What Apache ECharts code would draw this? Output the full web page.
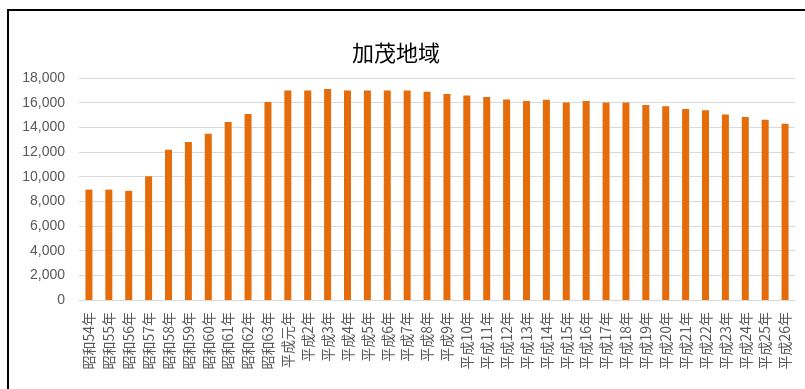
<!DOCTYPE html>
<html><head><meta charset="utf-8">
<script src="https://cdn.jsdelivr.net/npm/echarts@6/dist/echarts.min.js"></script>
<style>html,body{margin:0;padding:0;background:#fff}#c{width:805px;height:389px}</style>
</head><body><div id="c"></div>
<script>
const categories = ['昭和54年','昭和55年','昭和56年','昭和57年','昭和58年','昭和59年','昭和60年','昭和61年','昭和62年','昭和63年',
 '平成元年','平成2年','平成3年','平成4年','平成5年','平成6年','平成7年','平成8年','平成9年','平成10年',
 '平成11年','平成12年','平成13年','平成14年','平成15年','平成16年','平成17年','平成18年','平成19年','平成20年',
 '平成21年','平成22年','平成23年','平成24年','平成25年','平成26年'];
const values = [8950,8950,8850,10030,12180,12820,13470,14440,15080,16050,
 16990,16990,17100,16990,16990,16990,16990,16880,16700,16590,
 16450,16260,16130,16240,16020,16130,16020,16020,15810,15700,
 15480,15380,15050,14840,14620,14300];
const yTicks = {min:0, max:18000, interval:2000};
const title = '加茂地域';

const chart = echarts.init(document.getElementById('c'));
chart.setOption({
  animation:false,
  title:{text:title,left:391,top:37,textAlign:'center',textStyle:{fontFamily:'Noto Sans CJK JP',fontSize:22,fontWeight:'normal',color:'#000'}},
  graphic:[{type:'rect',shape:{x:8,y:10,width:900,height:500},style:{fill:'none',stroke:'#000',lineWidth:2}}],
  grid:{left:79,right:10,top:78,bottom:89,containLabel:false},
  xAxis:{type:'category',data:categories,
    axisLine:{lineStyle:{color:'#d9d9d9'}},axisTick:{show:false},
    axisLabel:{rotate:90,interval:0,margin:12,color:'#595959',fontSize:14,fontFamily:'Noto Sans CJK JP'}},
  yAxis:{type:'value',min:yTicks.min,max:yTicks.max,interval:yTicks.interval,
    axisLine:{show:false},axisTick:{show:false},
    splitLine:{lineStyle:{color:'#d9d9d9'}},
    axisLabel:{color:'#595959',fontSize:14,margin:14,fontFamily:'Liberation Sans',
      formatter:v=>v.toLocaleString('en-US')}},
  series:[{type:'bar',data:values,barWidth:7,itemStyle:{color:'#e46c0a'}}]
});
</script></body></html>
